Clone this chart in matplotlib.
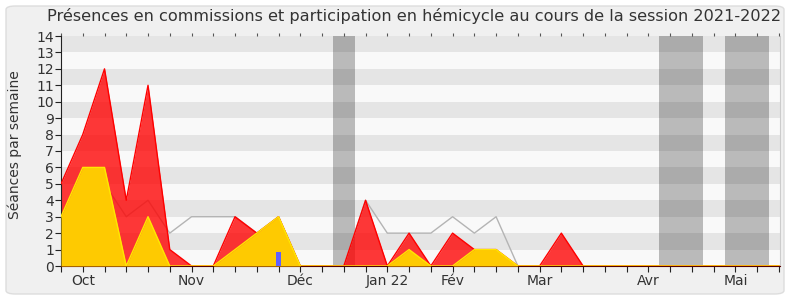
import matplotlib
matplotlib.use("Agg")
import matplotlib.pyplot as plt
from matplotlib.patches import FancyBboxPatch
import numpy as np

# weekly values, session 2021-2022 (week 0 = end of Sept)
weeks = list(range(0, 34))
commission = [5, 8, 12, 4, 11, 1, 0, 0, 3, 2, 3, 0, 0, 0, 4, 0, 2, 0, 2, 1,
              1, 0, 0, 2, 0, 0, 0, 0, 0, 0, 0, 0, 0, 0]
hemicycle = [3, 6, 6, 0, 3, 0, 0, 0, 1, 2, 3, 0, 0, 0, 0, 0, 1, 0, 0, 1,
             1, 0, 0, 0, 0, 0, 0, 0, 0, 0, 0, 0, 0, 0]
median = [3, 3, 5, 3, 4, 2, 3, 3, 3, 2, 3, 0, 0, 0, 4, 2, 2, 2, 3, 2,
          3, 0, 0, 0, 0, 0, 0, 0, 0, 0, 0, 0, 0, 0]
questions_x = [10]
questions = [0.87]
vacances = [(12.5, 13.5), (27.5, 29.5), (30.5, 32.55)]
month_pos = [1, 6, 11, 15, 18, 22, 27, 31]
month_labels = ["Oct", "Nov", "Déc", "Jan 22", "Fév", "Mar", "Avr", "Mai"]

txt = "#333333"
fig = plt.figure(figsize=(7.9, 3.0), dpi=100)
fig.patch.set_facecolor("white")
fig.patches.append(FancyBboxPatch((6 / 790, 6 / 300), 778 / 790, 288 / 300,
                                  boxstyle="round,pad=0,rounding_size=0.012",
                                  transform=fig.transFigure, facecolor="#f0f0f0",
                                  edgecolor="#dddddd", lw=1, zorder=-10))

ax = fig.add_axes([61 / 790, 34 / 300, 719 / 790, 230 / 300])
ax.set_facecolor("#f9f9f9")
for k in range(1, 14, 2):
    ax.axhspan(k, k + 1, color="#e5e5e5", lw=0, zorder=0)
for a, b in vacances:
    ax.axvspan(a, b, color="black", alpha=0.25, lw=0, zorder=0.5)

ax.plot(weeks, median, color="#b4b4b4", lw=1, zorder=1)
ax.fill_between(weeks, commission, color="#ff0000", alpha=0.78, lw=0, zorder=2)
ax.plot(weeks, commission, color="#ff0000", lw=1, zorder=3)
ax.fill_between(weeks, hemicycle, color="#ffd000", alpha=0.97, lw=0, zorder=4)
ax.plot(weeks, hemicycle, color="#ffe800", lw=1, zorder=5)
ax.bar(questions_x, questions, width=0.27, color="#6060ff", zorder=6)

ax.set_xlim(0, 33.05)
ax.set_ylim(0, 14)
ax.set_yticks(range(0, 15))
ax.set_xticks(weeks)
ax.set_xticklabels([month_labels[month_pos.index(w)] if w in month_pos else ""
                    for w in weeks])
ax.tick_params(axis="both", direction="out", length=4, color="#222222",
               labelcolor=txt, labelsize=10)
ax.tick_params(axis="x", pad=2)
ax.tick_params(axis="y", pad=1)

top = ax.secondary_xaxis("top")
top.set_xticks(weeks)
top.tick_params(length=2, color="#555555", labeltop=False)
top.spines["top"].set_visible(False)

ax.spines["top"].set_visible(False)
ax.spines["right"].set_color("#cccccc")
ax.spines["left"].set_color("#222222")
ax.spines["bottom"].set_color("#550000")

fig.text(414 / 790, 1 - 16 / 300, "Présences en commissions et participation en hémicycle au cours de la session 2021-2022",
         ha="center", va="center", fontsize=11.6, color=txt)
fig.text(15 / 790, 1 - 145 / 300, "Séances par semaine", rotation=90,
         ha="center", va="center", fontsize=10, color=txt)

fig.savefig("out.png", dpi=100)
